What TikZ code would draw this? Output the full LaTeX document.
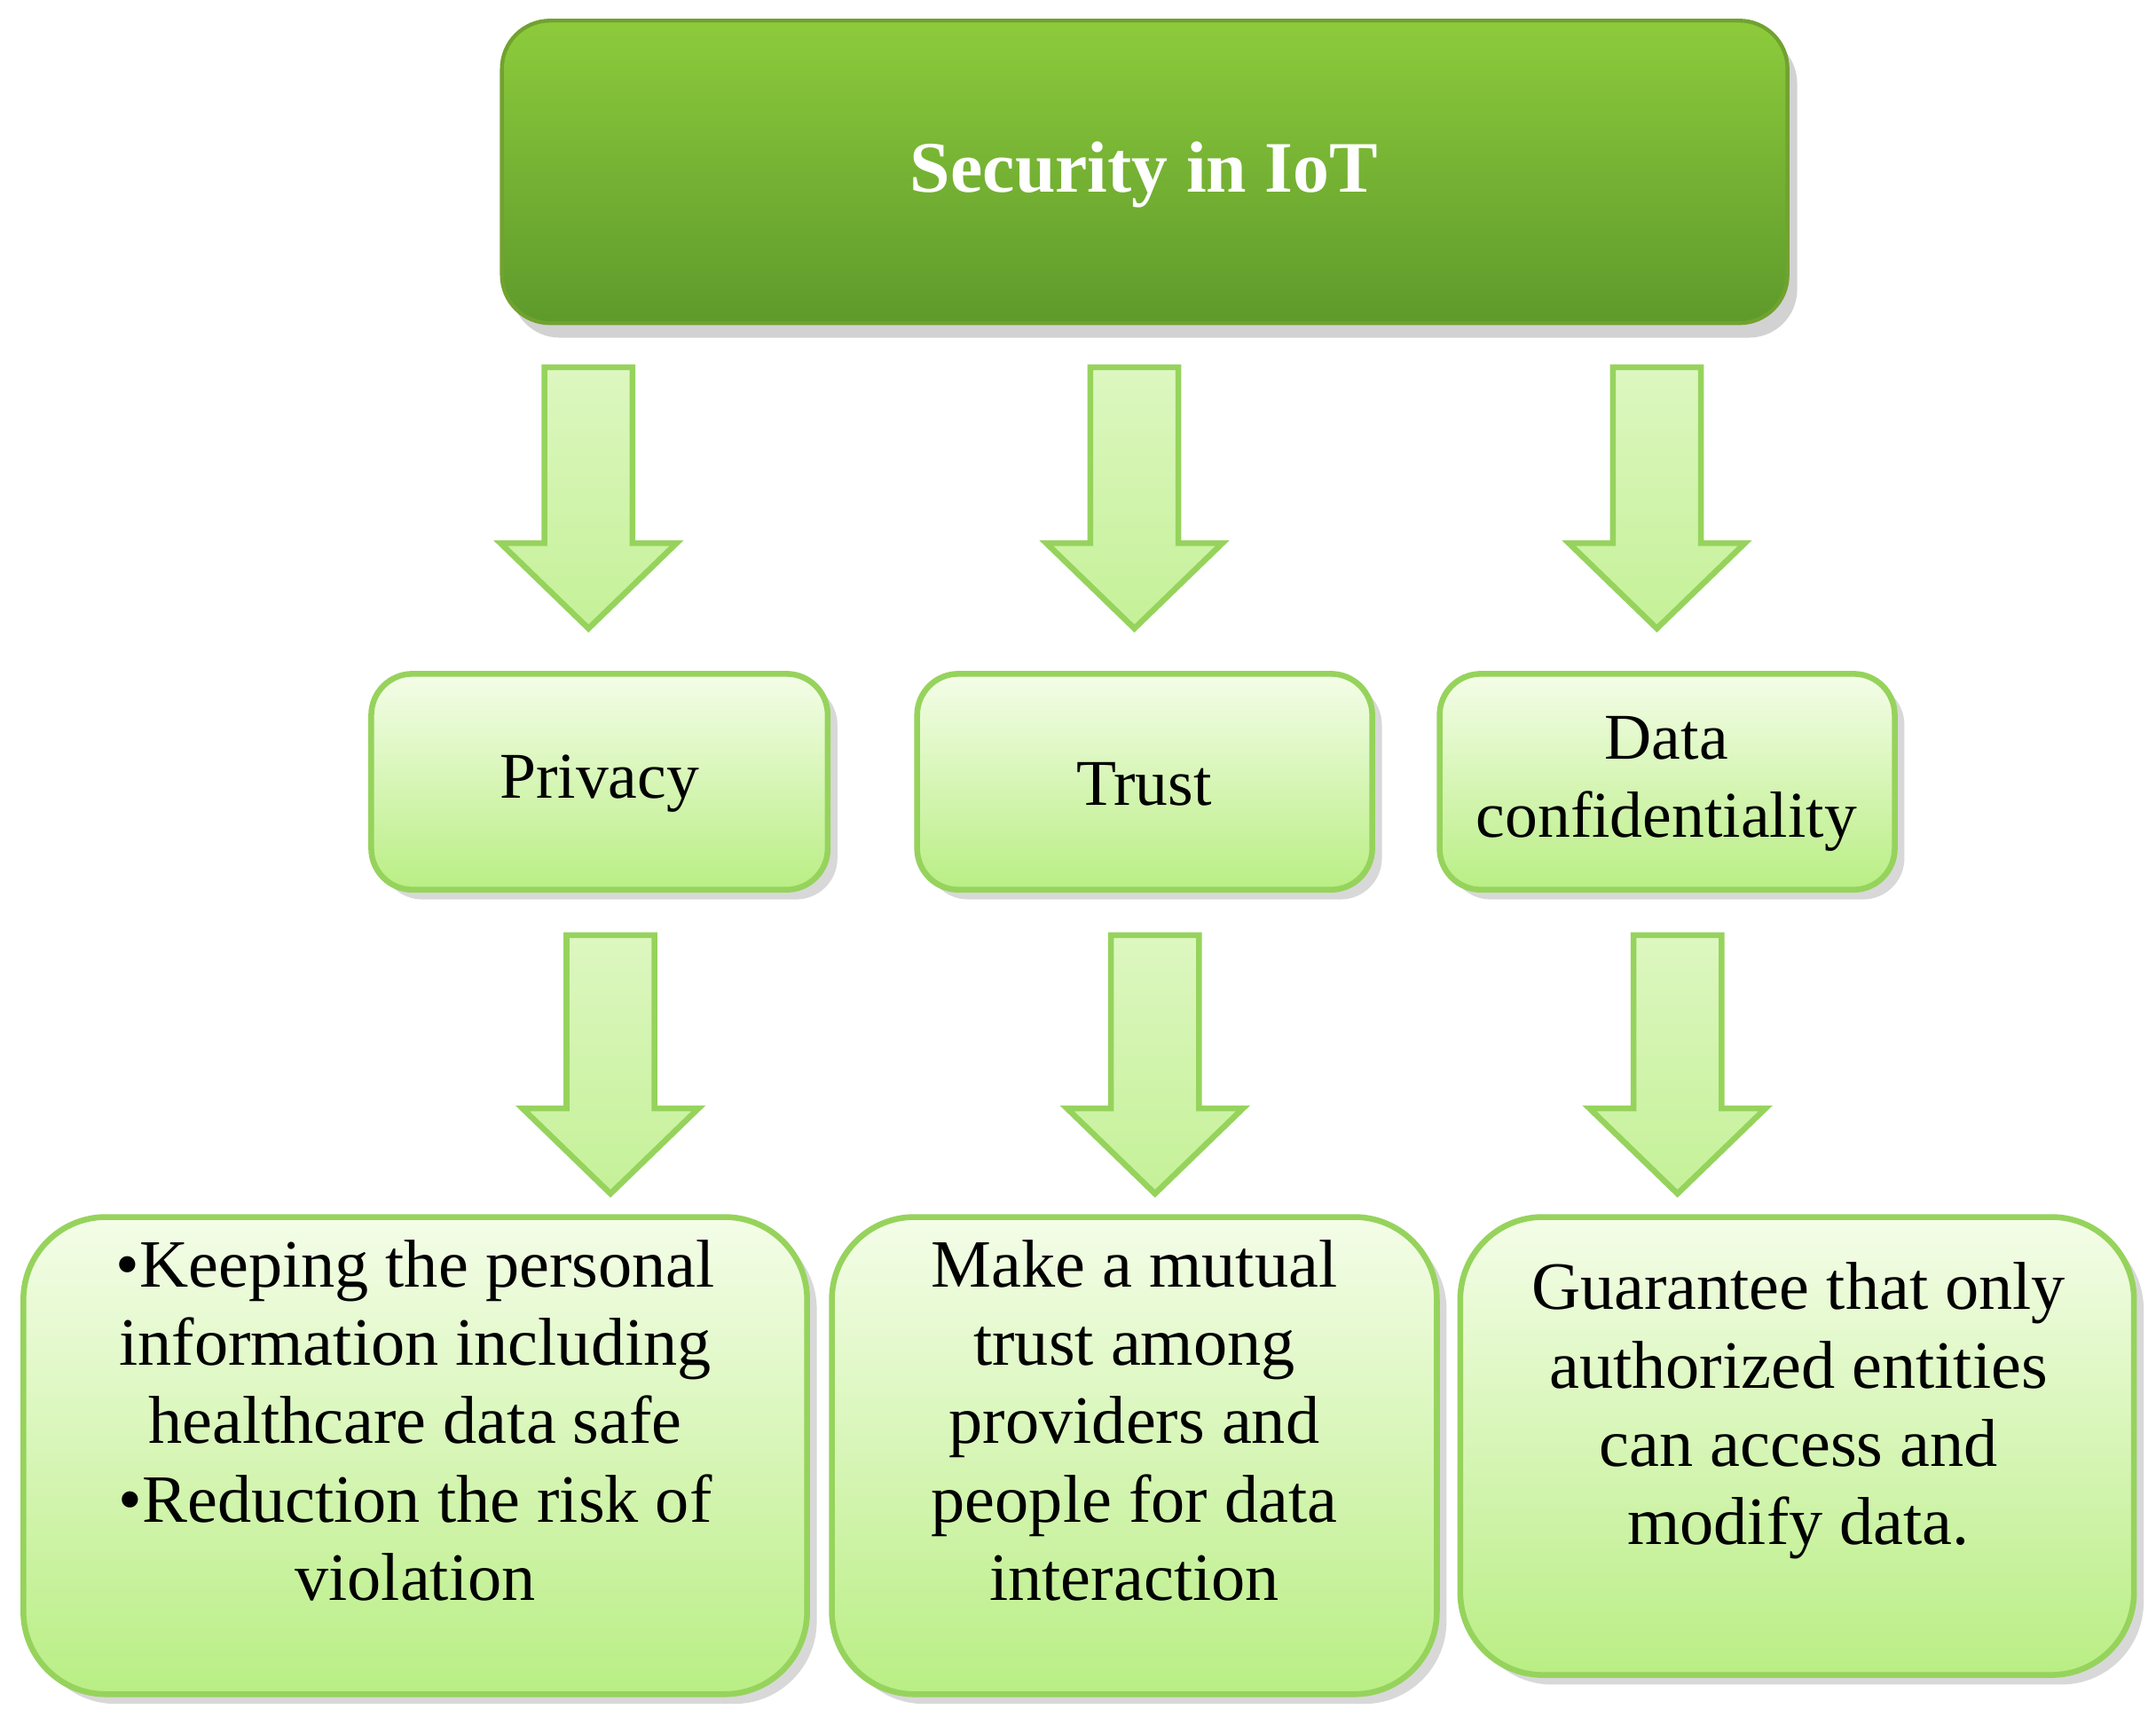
\documentclass[tikz,border=0pt]{standalone}
\usepackage{fontspec}
\setmainfont{Liberation Serif}
\usetikzlibrary{shadows}
\definecolor{dg1}{HTML}{8DCB3C}
\definecolor{dg2}{HTML}{5E9A2B}
\definecolor{lg1}{HTML}{F4FDE8}
\definecolor{lg2}{HTML}{B9EE84}
\definecolor{lb}{HTML}{96D35C}
\tikzset{
 box/.style={draw=lb,line width=1.2pt,top color=lg1,bottom color=lg2,
   drop shadow={shadow xshift=2pt,shadow yshift=-2pt,opacity=0.3}},
 arr/.style={draw=lb,line width=1.2pt,top color=lg1!60!lg2,bottom color=lg2!80!lg1},
 txt/.style={align=center,font=\fontsize{13.5}{16}\selectfont},
 btxt/.style={align=center,font=\fontsize{14}{16.2}\selectfont}
}
\begin{document}
\begin{tikzpicture}[x=0.01cm,y=-0.01cm]
\useasboundingbox (0,0) rectangle (1568,1254);
\fill[white] (0,0) rectangle (1568,1254);
% top box
\draw[draw=dg1!80!black,line width=0.8pt,top color=dg1,bottom color=dg2,rounded corners=0.35cm,
 drop shadow={shadow xshift=2pt,shadow yshift=-3pt,opacity=0.35}] (365,15) rectangle (1300,235);
\node[text=white,font=\bfseries\fontsize{15}{18}\selectfont] (top) at (832,127) {Security in IoT};
% arrows
\foreach \c/\s/\e in {428/267/457,825/267/457,1205/267/457,444/680/868,840/680/868,1220/680/868}{
 \pgfmathsetmacro\hs{\e-62}
 \draw[arr] (\c-32,\s) -- (\c+32,\s) -- (\c+32,\hs) -- (\c+64,\hs) -- (\c,\e) -- (\c-64,\hs) -- (\c-32,\hs) -- cycle;
}
% middle boxes
\draw[box,rounded corners=0.3cm] (270,490) rectangle (602,647);
\draw[box,rounded corners=0.3cm] (667,490) rectangle (998,647);
\draw[box,rounded corners=0.3cm] (1047,490) rectangle (1378,647);
\node[txt] (priv) at (436,570) {Privacy};
\node[txt] (trust) at (832,570) {Trust};
\node[txt] (data) at (1212,570) {Data\\confidentiality};
% bottom boxes
\draw[box,rounded corners=0.6cm] (17,885) rectangle (587,1232);
\draw[box,rounded corners=0.6cm] (605,885) rectangle (1045,1232);
\draw[box,rounded corners=0.6cm] (1062,885) rectangle (1552,1218);
\node[btxt] (b1) at (302,1033) {•Keeping the personal\\information including\\healthcare data safe\\•Reduction the risk of\\violation};
\node[btxt] (b2) at (825,1033) {Make a mutual\\trust among\\providers and\\people for data\\interaction};
\node[btxt] (b3) at (1308,1026) {Guarantee that only\\authorized entities\\can access and\\modify data.};
\end{tikzpicture}
\end{document}
